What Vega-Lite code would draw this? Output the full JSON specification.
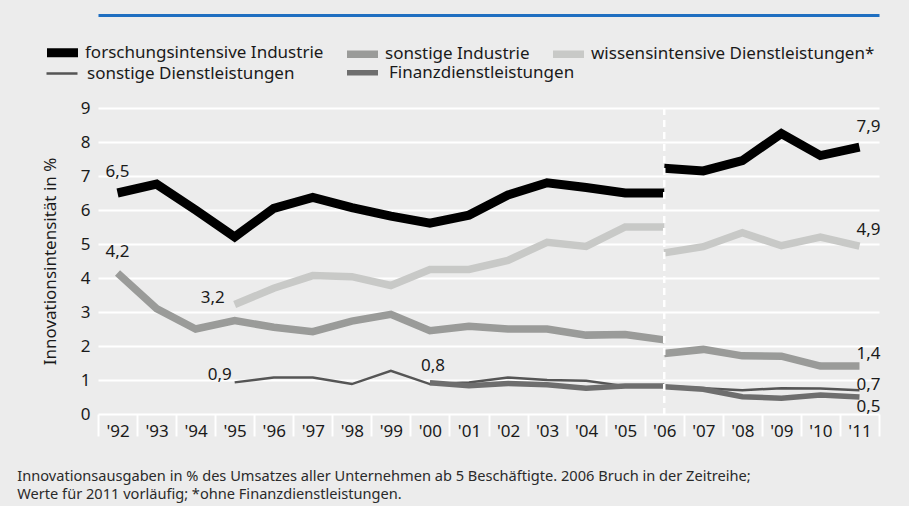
{
  "$schema": "https://vega.github.io/schema/vega-lite/v6.json",
  "width": 781,
  "height": 306,
  "autosize": {"type": "none"},
  "padding": {"left": 98, "top": 108, "right": 30, "bottom": 92},
  "background": "#ececec",
  "config": {
    "font": "Noto Sans",
    "view": {"stroke": null},
    "axis": {"labelFont": "Noto Sans", "titleFont": "Noto Sans", "labelColor": "#1a1a1a", "titleColor": "#1a1a1a"},
    "axisY": {"titleFontSize": 17, "titleFontWeight": "normal", "titlePadding": 21, "labelFontSize": 17, "labelPadding": 8,
      "labelOverlap": false, "domain": false, "ticks": false, "grid": true, "gridColor": "white", "gridWidth": 2},
    "legend": {
      "orient": "none", "direction": "horizontal",
      "symbolType": "stroke", "symbolSize": 961, "labelFontSize": 17, "labelFont": "Noto Sans",
      "labelColor": "#1a1a1a", "labelLimit": 0
    }
  },
  "title": {
    "text": ["Innovationsausgaben in % des Umsatzes aller Unternehmen ab 5 Beschäftigte. 2006 Bruch in der Zeitreihe;", "Werte für 2011 vorläufig; *ohne Finanzdienstleistungen."],
    "orient": "bottom", "anchor": "start", "dx": -24, "offset": 30, "fontSize": 14.6,
    "fontWeight": "normal", "font": "Noto Sans", "color": "#2a2a2a", "lineHeight": 17.5
  },
  "data": {"values": [
    {"series": "forschungsintensive Industrie", "segment": "a", "year": 1992, "value": 6.5, "label": "6,5"},
    {"series": "forschungsintensive Industrie", "segment": "a", "year": 1993, "value": 6.76},
    {"series": "forschungsintensive Industrie", "segment": "a", "year": 1994, "value": 6.0},
    {"series": "forschungsintensive Industrie", "segment": "a", "year": 1995, "value": 5.21},
    {"series": "forschungsintensive Industrie", "segment": "a", "year": 1996, "value": 6.05},
    {"series": "forschungsintensive Industrie", "segment": "a", "year": 1997, "value": 6.37},
    {"series": "forschungsintensive Industrie", "segment": "a", "year": 1998, "value": 6.07},
    {"series": "forschungsintensive Industrie", "segment": "a", "year": 1999, "value": 5.82},
    {"series": "forschungsintensive Industrie", "segment": "a", "year": 2000, "value": 5.61},
    {"series": "forschungsintensive Industrie", "segment": "a", "year": 2001, "value": 5.85},
    {"series": "forschungsintensive Industrie", "segment": "a", "year": 2002, "value": 6.44},
    {"series": "forschungsintensive Industrie", "segment": "a", "year": 2003, "value": 6.8},
    {"series": "forschungsintensive Industrie", "segment": "a", "year": 2004, "value": 6.66},
    {"series": "forschungsintensive Industrie", "segment": "a", "year": 2005, "value": 6.5},
    {"series": "forschungsintensive Industrie", "segment": "a", "year": 2006, "value": 6.5},
    {"series": "forschungsintensive Industrie", "segment": "b", "year": 2006, "value": 7.23},
    {"series": "forschungsintensive Industrie", "segment": "b", "year": 2007, "value": 7.15},
    {"series": "forschungsintensive Industrie", "segment": "b", "year": 2008, "value": 7.45},
    {"series": "forschungsintensive Industrie", "segment": "b", "year": 2009, "value": 8.25},
    {"series": "forschungsintensive Industrie", "segment": "b", "year": 2010, "value": 7.6},
    {"series": "forschungsintensive Industrie", "segment": "b", "year": 2011, "value": 7.85, "label": "7,9"},
    {"series": "sonstige Industrie", "segment": "a", "year": 1992, "value": 4.15, "label": "4,2"},
    {"series": "sonstige Industrie", "segment": "a", "year": 1993, "value": 3.1},
    {"series": "sonstige Industrie", "segment": "a", "year": 1994, "value": 2.5},
    {"series": "sonstige Industrie", "segment": "a", "year": 1995, "value": 2.75},
    {"series": "sonstige Industrie", "segment": "a", "year": 1996, "value": 2.55},
    {"series": "sonstige Industrie", "segment": "a", "year": 1997, "value": 2.42},
    {"series": "sonstige Industrie", "segment": "a", "year": 1998, "value": 2.73},
    {"series": "sonstige Industrie", "segment": "a", "year": 1999, "value": 2.93},
    {"series": "sonstige Industrie", "segment": "a", "year": 2000, "value": 2.45},
    {"series": "sonstige Industrie", "segment": "a", "year": 2001, "value": 2.58},
    {"series": "sonstige Industrie", "segment": "a", "year": 2002, "value": 2.5},
    {"series": "sonstige Industrie", "segment": "a", "year": 2003, "value": 2.5},
    {"series": "sonstige Industrie", "segment": "a", "year": 2004, "value": 2.32},
    {"series": "sonstige Industrie", "segment": "a", "year": 2005, "value": 2.34},
    {"series": "sonstige Industrie", "segment": "a", "year": 2006, "value": 2.18},
    {"series": "sonstige Industrie", "segment": "b", "year": 2006, "value": 1.78},
    {"series": "sonstige Industrie", "segment": "b", "year": 2007, "value": 1.9},
    {"series": "sonstige Industrie", "segment": "b", "year": 2008, "value": 1.71},
    {"series": "sonstige Industrie", "segment": "b", "year": 2009, "value": 1.7},
    {"series": "sonstige Industrie", "segment": "b", "year": 2010, "value": 1.41},
    {"series": "sonstige Industrie", "segment": "b", "year": 2011, "value": 1.41, "label": "1,4"},
    {"series": "wissensintensive Dienstleistungen*", "segment": "a", "year": 1995, "value": 3.22, "label": "3,2"},
    {"series": "wissensintensive Dienstleistungen*", "segment": "a", "year": 1996, "value": 3.7},
    {"series": "wissensintensive Dienstleistungen*", "segment": "a", "year": 1997, "value": 4.07},
    {"series": "wissensintensive Dienstleistungen*", "segment": "a", "year": 1998, "value": 4.04},
    {"series": "wissensintensive Dienstleistungen*", "segment": "a", "year": 1999, "value": 3.78},
    {"series": "wissensintensive Dienstleistungen*", "segment": "a", "year": 2000, "value": 4.25},
    {"series": "wissensintensive Dienstleistungen*", "segment": "a", "year": 2001, "value": 4.25},
    {"series": "wissensintensive Dienstleistungen*", "segment": "a", "year": 2002, "value": 4.52},
    {"series": "wissensintensive Dienstleistungen*", "segment": "a", "year": 2003, "value": 5.05},
    {"series": "wissensintensive Dienstleistungen*", "segment": "a", "year": 2004, "value": 4.93},
    {"series": "wissensintensive Dienstleistungen*", "segment": "a", "year": 2005, "value": 5.5},
    {"series": "wissensintensive Dienstleistungen*", "segment": "a", "year": 2006, "value": 5.5},
    {"series": "wissensintensive Dienstleistungen*", "segment": "b", "year": 2006, "value": 4.74},
    {"series": "wissensintensive Dienstleistungen*", "segment": "b", "year": 2007, "value": 4.92},
    {"series": "wissensintensive Dienstleistungen*", "segment": "b", "year": 2008, "value": 5.33},
    {"series": "wissensintensive Dienstleistungen*", "segment": "b", "year": 2009, "value": 4.95},
    {"series": "wissensintensive Dienstleistungen*", "segment": "b", "year": 2010, "value": 5.2},
    {"series": "wissensintensive Dienstleistungen*", "segment": "b", "year": 2011, "value": 4.94, "label": "4,9"},
    {"series": "sonstige Dienstleistungen", "segment": "a", "year": 1995, "value": 0.93, "label": "0,9"},
    {"series": "sonstige Dienstleistungen", "segment": "a", "year": 1996, "value": 1.07},
    {"series": "sonstige Dienstleistungen", "segment": "a", "year": 1997, "value": 1.07},
    {"series": "sonstige Dienstleistungen", "segment": "a", "year": 1998, "value": 0.88},
    {"series": "sonstige Dienstleistungen", "segment": "a", "year": 1999, "value": 1.27},
    {"series": "sonstige Dienstleistungen", "segment": "a", "year": 2000, "value": 0.88},
    {"series": "sonstige Dienstleistungen", "segment": "a", "year": 2001, "value": 0.93},
    {"series": "sonstige Dienstleistungen", "segment": "a", "year": 2002, "value": 1.07},
    {"series": "sonstige Dienstleistungen", "segment": "a", "year": 2003, "value": 1.0},
    {"series": "sonstige Dienstleistungen", "segment": "a", "year": 2004, "value": 0.98},
    {"series": "sonstige Dienstleistungen", "segment": "a", "year": 2005, "value": 0.82},
    {"series": "sonstige Dienstleistungen", "segment": "a", "year": 2006, "value": 0.82},
    {"series": "sonstige Dienstleistungen", "segment": "b", "year": 2006, "value": 0.82},
    {"series": "sonstige Dienstleistungen", "segment": "b", "year": 2007, "value": 0.76},
    {"series": "sonstige Dienstleistungen", "segment": "b", "year": 2008, "value": 0.7},
    {"series": "sonstige Dienstleistungen", "segment": "b", "year": 2009, "value": 0.76},
    {"series": "sonstige Dienstleistungen", "segment": "b", "year": 2010, "value": 0.75},
    {"series": "sonstige Dienstleistungen", "segment": "b", "year": 2011, "value": 0.7, "label": "0,7"},
    {"series": "Finanzdienstleistungen", "segment": "a", "year": 2000, "value": 0.92, "label": "0,8"},
    {"series": "Finanzdienstleistungen", "segment": "a", "year": 2001, "value": 0.83},
    {"series": "Finanzdienstleistungen", "segment": "a", "year": 2002, "value": 0.9},
    {"series": "Finanzdienstleistungen", "segment": "a", "year": 2003, "value": 0.86},
    {"series": "Finanzdienstleistungen", "segment": "a", "year": 2004, "value": 0.76},
    {"series": "Finanzdienstleistungen", "segment": "a", "year": 2005, "value": 0.82},
    {"series": "Finanzdienstleistungen", "segment": "a", "year": 2006, "value": 0.82},
    {"series": "Finanzdienstleistungen", "segment": "b", "year": 2006, "value": 0.8},
    {"series": "Finanzdienstleistungen", "segment": "b", "year": 2007, "value": 0.73},
    {"series": "Finanzdienstleistungen", "segment": "b", "year": 2008, "value": 0.51},
    {"series": "Finanzdienstleistungen", "segment": "b", "year": 2009, "value": 0.46},
    {"series": "Finanzdienstleistungen", "segment": "b", "year": 2010, "value": 0.56},
    {"series": "Finanzdienstleistungen", "segment": "b", "year": 2011, "value": 0.5, "label": "0,5"}
  ]},
  "resolve": {"axis": {"x": "independent"}},
  "layer": [
    {
      "mark": {"type": "line", "strokeCap": "butt", "strokeJoin": "miter"},
      "encoding": {
        "x": {"field": "year", "type": "ordinal",
          "scale": {"type": "band", "paddingInner": 0, "paddingOuter": 0},
          "axis": {"orient": "bottom", "title": null, "labelAngle": 0,
            "labelExpr": "isValid(datum.value) ? \"'\" + substring(toString(datum.value), 2) : ''",
            "labelFontSize": 17, "labelPadding": -13, "domain": false, "grid": false,
            "ticks": true, "tickBand": "extent", "tickColor": "white", "tickWidth": 2, "tickSize": 22}},
        "y": {"field": "value", "type": "quantitative",
          "scale": {"domain": [0, 9], "nice": false},
          "axis": {"title": "Innovationsintensität in %", "values": [0, 1, 2, 3, 4, 5, 6, 7, 8, 9]}},
        "color": {"field": "series", "type": "nominal",
          "scale": {"domain": ["forschungsintensive Industrie", "sonstige Industrie", "wissensintensive Dienstleistungen*", "sonstige Dienstleistungen", "Finanzdienstleistungen"],
            "range": ["#000000", "#9a9b99", "#c8c9c7", "#555555", "#6e6e6e"]},
          "legend": {"title": null, "values": ["forschungsintensive Industrie", "sonstige Industrie", "wissensintensive Dienstleistungen*"],
            "legendX": -44, "legendY": -64, "columnPadding": 8, "labelOffset": 14,
            "encode": {"symbols": {"update": {"strokeWidth": {"signal": "datum.value == 'forschungsintensive Industrie' ? 9 : 7.5"}}}}}},
        "strokeWidth": {"field": "series", "type": "nominal",
          "scale": {"type": "ordinal", "domain": ["sonstige Dienstleistungen", "Finanzdienstleistungen", "forschungsintensive Industrie", "sonstige Industrie", "wissensintensive Dienstleistungen*"],
            "range": [2.5, 5.5, 9, 7.5, 7.5]},
          "legend": {"title": null, "values": ["sonstige Dienstleistungen", "Finanzdienstleistungen"],
            "legendX": -53, "legendY": -54, "columnPadding": 41, "labelOffset": 8,
            "encode": {"symbols": {"update": {"stroke": {"signal": "datum.value == 'sonstige Dienstleistungen' ? '#555555' : '#6e6e6e'"}}}}}},
        "detail": {"field": "segment"}
      }
    },
    {
      "transform": [{"filter": "datum.year == 2006 && datum.segment == 'a' && datum.series == 'forschungsintensive Industrie'"}],
      "mark": {"type": "rule", "color": "white", "strokeWidth": 2.5, "strokeDash": [7, 5]},
      "encoding": {
        "x": {"field": "year", "type": "ordinal", "bandPosition": 0.5,
          "axis": {"orient": "top", "title": null, "labels": false, "ticks": false, "grid": false,
            "domain": true, "domainColor": "#1f6fc1", "domainWidth": 3, "offset": 93}}
      }
    },
    {
      "transform": [{"filter": "datum.label == '6,5' || datum.label == '4,2'"}],
      "mark": {"type": "text", "fontSize": 17, "color": "#1a1a1a", "align": "center", "baseline": "middle", "dy": -21},
      "encoding": {"x": {"field": "year", "type": "ordinal", "axis": null}, "y": {"field": "value", "type": "quantitative", "axis": {"title": "Innovationsintensität in %", "values": [0, 1, 2, 3, 4, 5, 6, 7, 8, 9]}}, "text": {"field": "label"}}
    },
    {
      "transform": [{"filter": "datum.label == '0,8'"}],
      "mark": {"type": "text", "fontSize": 17, "color": "#1a1a1a", "align": "center", "baseline": "middle", "dx": 3, "dy": -17},
      "encoding": {"x": {"field": "year", "type": "ordinal", "axis": null}, "y": {"field": "value", "type": "quantitative", "axis": {"title": "Innovationsintensität in %", "values": [0, 1, 2, 3, 4, 5, 6, 7, 8, 9]}}, "text": {"field": "label"}}
    },
    {
      "transform": [{"filter": "datum.label == '3,2'"}],
      "mark": {"type": "text", "fontSize": 17, "color": "#1a1a1a", "align": "right", "baseline": "middle", "dx": -10, "dy": -7},
      "encoding": {"x": {"field": "year", "type": "ordinal", "axis": null}, "y": {"field": "value", "type": "quantitative", "axis": {"title": "Innovationsintensität in %", "values": [0, 1, 2, 3, 4, 5, 6, 7, 8, 9]}}, "text": {"field": "label"}}
    },
    {
      "transform": [{"filter": "datum.label == '0,9'"}],
      "mark": {"type": "text", "fontSize": 17, "color": "#1a1a1a", "align": "right", "baseline": "middle", "dx": -3, "dy": -7},
      "encoding": {"x": {"field": "year", "type": "ordinal", "axis": null}, "y": {"field": "value", "type": "quantitative", "axis": {"title": "Innovationsintensität in %", "values": [0, 1, 2, 3, 4, 5, 6, 7, 8, 9]}}, "text": {"field": "label"}}
    },
    {
      "transform": [{"filter": "datum.label == '7,9'"}],
      "mark": {"type": "text", "fontSize": 17, "color": "#1a1a1a", "align": "left", "baseline": "middle", "dx": -3, "dy": -20},
      "encoding": {"x": {"field": "year", "type": "ordinal", "axis": null}, "y": {"field": "value", "type": "quantitative", "axis": {"title": "Innovationsintensität in %", "values": [0, 1, 2, 3, 4, 5, 6, 7, 8, 9]}}, "text": {"field": "label"}}
    },
    {
      "transform": [{"filter": "datum.label == '4,9'"}],
      "mark": {"type": "text", "fontSize": 17, "color": "#1a1a1a", "align": "left", "baseline": "middle", "dx": -3, "dy": -16},
      "encoding": {"x": {"field": "year", "type": "ordinal", "axis": null}, "y": {"field": "value", "type": "quantitative", "axis": {"title": "Innovationsintensität in %", "values": [0, 1, 2, 3, 4, 5, 6, 7, 8, 9]}}, "text": {"field": "label"}}
    },
    {
      "transform": [{"filter": "datum.label == '1,4'"}],
      "mark": {"type": "text", "fontSize": 17, "color": "#1a1a1a", "align": "left", "baseline": "middle", "dx": -3, "dy": -12},
      "encoding": {"x": {"field": "year", "type": "ordinal", "axis": null}, "y": {"field": "value", "type": "quantitative", "axis": {"title": "Innovationsintensität in %", "values": [0, 1, 2, 3, 4, 5, 6, 7, 8, 9]}}, "text": {"field": "label"}}
    },
    {
      "transform": [{"filter": "datum.label == '0,7'"}],
      "mark": {"type": "text", "fontSize": 17, "color": "#1a1a1a", "align": "left", "baseline": "middle", "dx": -3, "dy": -5},
      "encoding": {"x": {"field": "year", "type": "ordinal", "axis": null}, "y": {"field": "value", "type": "quantitative", "axis": {"title": "Innovationsintensität in %", "values": [0, 1, 2, 3, 4, 5, 6, 7, 8, 9]}}, "text": {"field": "label"}}
    },
    {
      "transform": [{"filter": "datum.label == '0,5'"}],
      "mark": {"type": "text", "fontSize": 17, "color": "#1a1a1a", "align": "left", "baseline": "middle", "dx": -3, "dy": 10},
      "encoding": {"x": {"field": "year", "type": "ordinal", "axis": null}, "y": {"field": "value", "type": "quantitative", "axis": {"title": "Innovationsintensität in %", "values": [0, 1, 2, 3, 4, 5, 6, 7, 8, 9]}}, "text": {"field": "label"}}
    }
  ]
}
